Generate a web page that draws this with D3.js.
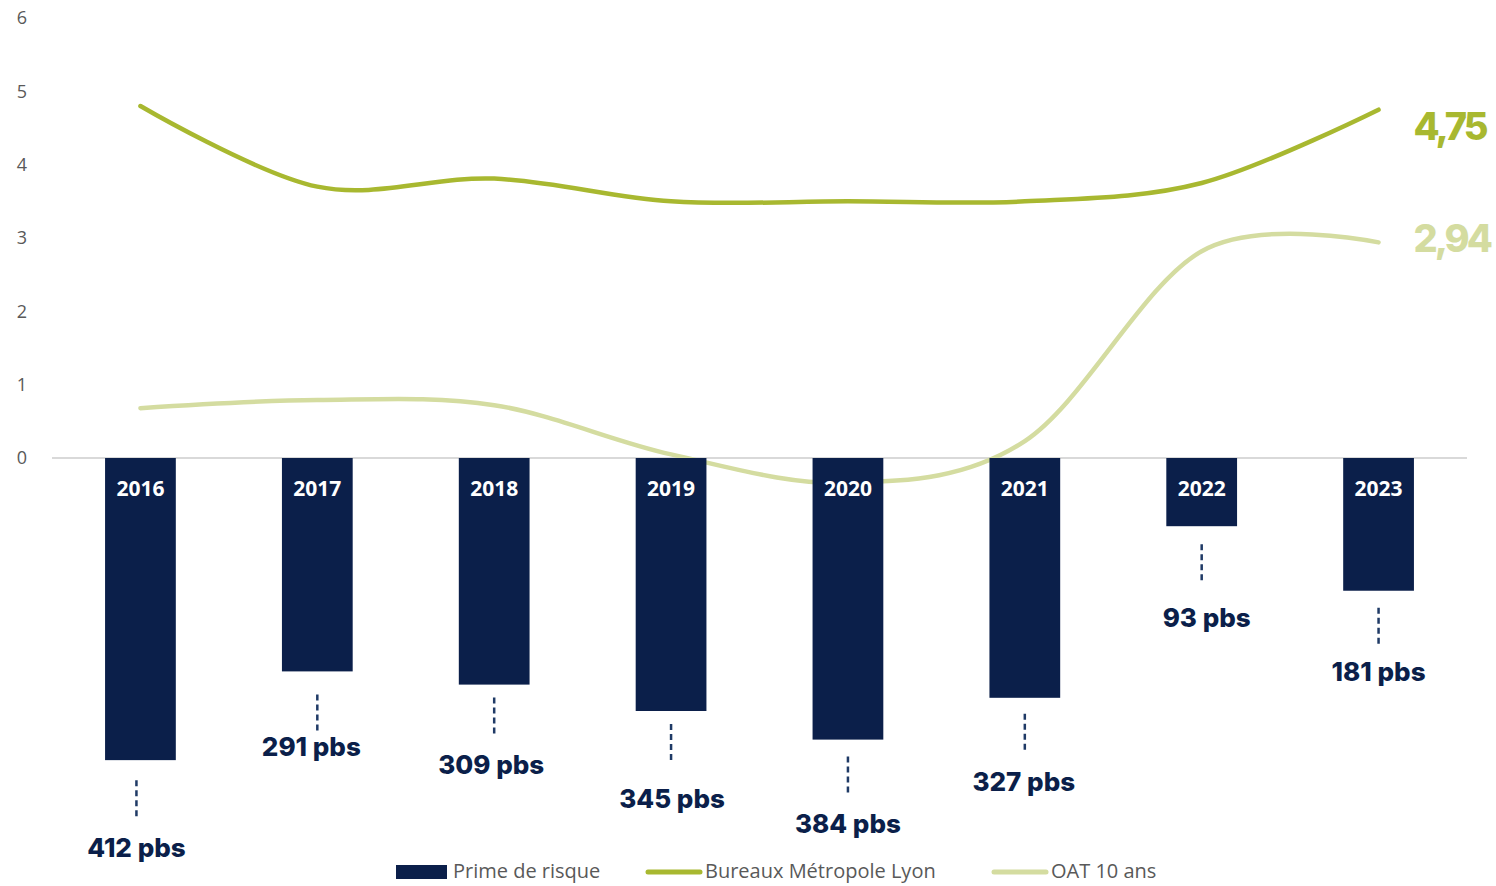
<!DOCTYPE html>
<html>
<head>
<meta charset="utf-8">
<script src="https://cdn.jsdelivr.net/npm/d3@7"></script>
<style>
  html, body { margin: 0; padding: 0; background: #fff; }
  svg { display: block; }
</style>
</head>
<body>
<svg id="chart" width="1496" height="886"></svg>
<script>
// Years on the x axis
const years = ["2016", "2017", "2018", "2019", "2020", "2021", "2022", "2023"];
// Risk premium, in basis points (drawn downward from 0)
const primeRisque = [412, 291, 309, 345, 384, 327, 93, 181];
// Prime yield, Lyon office market (%)
const bureauxLyon = [4.80, 3.70, 3.81, 3.50, 3.50, 3.50, 3.75, 4.75];
// 10-year French government bond yield (%)
const oat10 = [0.68, 0.79, 0.72, 0.05, -0.34, 0.23, 2.82, 2.94];
// Y axis tick labels
const yTicks = [0, 1, 2, 3, 4, 5, 6];

// Hand-tuned gaps (px) between each bar end and its dashed leader / label
const leaderGap = [20, 23, 13, 13, 17, 16, 18, 17];
const labelGap = [28, 12, 27, 35, 27, 28, 34, 24];
const labelShift = [-4, -6, -3, 1, 0, -1, 5, 0];

const navy = "#0b1f4a";
const green = "#a8b830";
const lightGreen = "#d4dca0";

const svg = d3.select("#chart");
const left = 52, right = 1467;
const y0px = 458, y6px = 18;

const x = d3.scaleBand().domain(years).range([left, right])
  .paddingInner(0.6).paddingOuter(0.3);
const y = d3.scaleLinear().domain([0, 6]).range([y0px, y6px]);

// Y axis labels
svg.append("g").selectAll("text").data(yTicks).join("text")
  .attr("x", 22).attr("y", d => y(d)).attr("dy", "0.35em")
  .attr("text-anchor", "middle")
  .attr("font-family", "Open Sans, sans-serif").attr("font-size", 18)
  .attr("fill", "#595959").text(d => d);

// Baseline
svg.append("line").attr("x1", left).attr("x2", right)
  .attr("y1", y(0)).attr("y2", y(0))
  .attr("stroke", "#d9d9d9").attr("stroke-width", 2);

// Lines (drawn beneath the bars)
const line = d3.line()
  .x((d, i) => x(years[i]) + x.bandwidth() / 2)
  .y(d => y(d))
  .curve(d3.curveCardinal.tension(0));

svg.append("path").datum(oat10).attr("d", line)
  .attr("fill", "none").attr("stroke", lightGreen).attr("stroke-width", 4.5)
  .attr("stroke-linecap", "round");
svg.append("path").datum(bureauxLyon).attr("d", line)
  .attr("fill", "none").attr("stroke", green).attr("stroke-width", 4.5)
  .attr("stroke-linecap", "round");

// Bars: premium in pbs, plotted as negative percentage points
const bars = svg.append("g");
bars.selectAll("rect").data(primeRisque).join("rect")
  .attr("x", (d, i) => x(years[i]))
  .attr("y", y(0))
  .attr("width", x.bandwidth())
  .attr("height", d => y(-d / 100) - y(0))
  .attr("fill", navy);

// Year labels inside bars
bars.selectAll("text.year").data(years).join("text")
  .attr("class", "year")
  .attr("x", d => x(d) + x.bandwidth() / 2)
  .attr("y", y(0) + 31)
  .attr("dy", "0.35em")
  .attr("text-anchor", "middle")
  .attr("font-family", "Open Sans, sans-serif").attr("font-weight", 700)
  .attr("font-size", 21).attr("fill", "#fff").text(d => d);

// Dashed leaders and value labels below bars
primeRisque.forEach((v, i) => {
  const cx = x(years[i]) + x.bandwidth() / 2 + (i === 0 ? -4 : 0);
  const bottom = y(-v / 100);
  const dashTop = bottom + leaderGap[i];
  const dashEnd = dashTop + 40;
  svg.append("line")
    .attr("x1", cx).attr("x2", cx)
    .attr("y1", dashTop).attr("y2", dashEnd)
    .attr("stroke", "#1f3a66").attr("stroke-width", 2.5)
    .attr("stroke-dasharray", "6,4");
  svg.append("text")
    .attr("x", x(years[i]) + x.bandwidth() / 2 + labelShift[i])
    .attr("y", dashEnd + labelGap[i])
    .attr("dy", "0.35em").attr("text-anchor", "middle")
    .attr("font-family", "Inter, sans-serif").attr("font-weight", 800)
    .attr("font-size", 26).attr("fill", navy)
    .text(v + " pbs");
});

// End-of-series value labels
const lastX = x(years[7]) + x.bandwidth() / 2;
[[bureauxLyon[7], green, 17], [oat10[7], lightGreen, -4]].forEach(([v, c, off]) => {
  svg.append("text")
    .attr("x", lastX + 35).attr("y", y(v) + off)
    .attr("dy", "0.35em")
    .attr("font-family", "Inter, sans-serif").attr("font-weight", 800)
    .attr("font-size", 38).attr("letter-spacing", "-3")
    .attr("fill", c).text(v.toFixed(2).replace(".", ","));
});

// Legend
const legend = [
  { label: "Prime de risque", type: "rect", color: navy, x: 396 },
  { label: "Bureaux Métropole Lyon", type: "line", color: green, x: 648 },
  { label: "OAT 10 ans", type: "line", color: lightGreen, x: 994 }
];
const ly = 872;
legend.forEach(l => {
  if (l.type === "rect") {
    svg.append("rect").attr("x", l.x).attr("y", ly - 7)
      .attr("width", 51).attr("height", 14).attr("fill", l.color);
  } else {
    svg.append("line").attr("x1", l.x).attr("x2", l.x + 52)
      .attr("y1", ly).attr("y2", ly)
      .attr("stroke", l.color).attr("stroke-width", 5)
      .attr("stroke-linecap", "round");
  }
  svg.append("text").attr("x", l.x + 57).attr("y", ly).attr("dy", "0.32em")
    .attr("font-family", "Open Sans, sans-serif").attr("font-size", 20)
    .attr("fill", "#595959").text(l.label);
});
</script>
</body>
</html>
